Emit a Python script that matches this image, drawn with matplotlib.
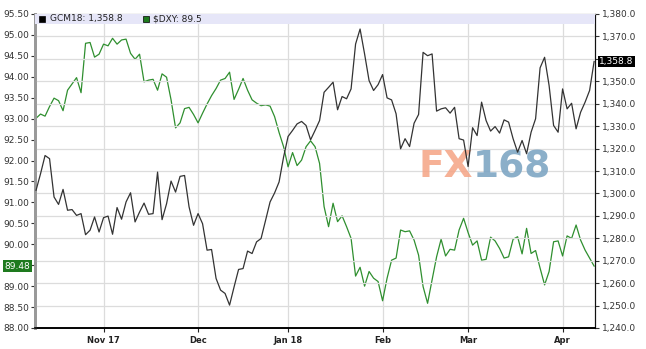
import numpy as np
import pandas as pd
import matplotlib
matplotlib.use('agg')
import matplotlib.pyplot as plt
from matplotlib.patches import Rectangle

# trading days shown on the chart (exchange holidays removed)
holidays = ['2017-11-23', '2017-12-25', '2018-01-01', '2018-01-15',
            '2018-02-19', '2018-03-30']
dates = pd.bdate_range('2017-10-11', '2018-04-11', freq='C', holidays=holidays)

# $DXY, left axis
dxy = [93.01, 93.11, 93.06, 93.29, 93.49, 93.43, 93.19, 93.68, 93.83, 93.98,
       93.62, 94.80, 94.82, 94.47, 94.54, 94.78, 94.74, 94.92, 94.78, 94.88,
       94.90, 94.56, 94.42, 94.54, 93.88, 93.92, 93.94, 93.68, 94.07, 93.99,
       93.45, 92.78, 92.90, 93.24, 93.27, 93.10, 92.90, 93.13, 93.35, 93.55,
       93.72, 93.92, 93.96, 94.11, 93.46, 93.70, 93.96, 93.68, 93.45, 93.37,
       93.31, 93.33, 93.30, 93.05, 92.67, 92.33, 91.85, 92.19, 91.88, 92.01,
       92.33, 92.47, 92.33, 91.93, 90.90, 90.42, 90.98, 90.54, 90.68, 90.42,
       90.14, 89.24, 89.45, 89.00, 89.35, 89.19, 89.11, 88.65, 89.19, 89.62,
       89.67, 90.34, 90.30, 90.32, 90.10, 89.74, 88.99, 88.59, 89.15, 89.70,
       90.12, 89.72, 89.88, 89.86, 90.34, 90.62, 90.28, 89.98, 90.08, 89.62,
       89.64, 90.17, 90.08, 89.90, 89.67, 89.70, 90.12, 90.18, 89.77, 90.38,
       89.78, 89.85, 89.43, 89.03, 89.35, 90.06, 90.08, 89.72, 90.20, 90.14,
       90.46, 90.10, 89.86, 89.67, 89.48]

# GCM18 gold futures, right axis
gold = [1301.4, 1308.8, 1316.9, 1315.5, 1298.4, 1295.1, 1301.8, 1292.5, 1292.8, 1290.2,
        1291.0, 1281.6, 1283.6, 1289.5, 1282.8, 1289.2, 1289.9, 1281.8, 1293.7, 1288.5,
        1296.2, 1300.3, 1287.3, 1291.7, 1295.7, 1290.7, 1291.0, 1309.5, 1288.3, 1295.4,
        1305.5, 1300.6, 1307.6, 1308.0, 1294.0, 1285.8, 1291.0, 1286.5, 1274.7, 1275.0,
        1262.1, 1256.9, 1255.4, 1250.2, 1258.3, 1266.1, 1266.5, 1274.3, 1273.2, 1278.4,
        1279.9, 1288.0, 1296.2, 1300.2, 1305.1, 1316.2, 1325.4, 1328.1, 1331.0, 1332.1,
        1330.3, 1323.9, 1328.1, 1332.5, 1345.1, 1347.3, 1349.6, 1337.3, 1343.2, 1342.2,
        1346.6, 1366.6, 1373.3, 1362.2, 1350.3, 1345.9, 1348.5, 1353.0, 1342.6, 1341.7,
        1335.5, 1319.9, 1324.4, 1320.9, 1331.3, 1335.2, 1362.9, 1361.4, 1362.2, 1336.7,
        1337.7, 1338.2, 1335.8, 1338.4, 1324.4, 1323.8, 1312.0, 1329.3, 1325.8, 1340.7,
        1332.5, 1327.8, 1329.8, 1326.9, 1332.8, 1331.8, 1324.4, 1318.4, 1323.6, 1317.7,
        1327.3, 1333.3, 1356.0, 1360.7, 1348.1, 1330.3, 1327.3, 1346.6, 1337.7, 1340.2,
        1328.8, 1336.2, 1340.7, 1345.9, 1358.8]

month_labels = ['Nov 17', 'Dec', 'Jan 18', 'Feb', 'Mar', 'Apr']

x = np.arange(len(dates))
month_starts = [i for i in range(1, len(dates)) if dates[i].month != dates[i - 1].month]

W, H = 646, 349
fig = plt.figure(figsize=(W / 100, H / 100), dpi=100)
ax = fig.add_axes([34.7 / W, 1 - 328 / H, (595 - 34.7) / W, 314 / H])
ax2 = ax.twinx()
pw = 595 - 34.7

ax.set_xlim(-0.3, len(dates) - 0.8)
ax.set_ylim(88.0, 95.5)
ax2.set_ylim(1240, 1380)

# tick labels hidden where the last-value tags sit
ax.set_yticks(np.arange(88.0, 95.51, 0.5))
ax.yaxis.set_major_formatter(lambda v, p: '' if abs(v - dxy[-1]) < 0.2 else f'{v:.2f}')
ax2.set_yticks(np.arange(1240, 1380.1, 10))
ax2.yaxis.set_major_formatter(lambda v, p: '' if abs(v - gold[-1]) < 4 else f'{v:,.1f}')
ax.set_xticks(month_starts)
ax.set_xticklabels(month_labels, fontweight='bold')

# grid: vertical at months, horizontal at right axis ticks
ax.grid(axis='x', color='#dcdcdc', lw=0.9)
ax2.grid(axis='y', color='#dcdcdc', lw=0.9)
ax.set_axisbelow(True)
ax2.set_axisbelow(True)

ax.tick_params(axis='y', length=3, labelsize=6.5, colors='#333333', pad=1)
ax2.tick_params(axis='y', length=3, labelsize=6.5, colors='#333333', pad=2)
ax.tick_params(axis='x', length=3, labelsize=6, colors='#222222', pad=3)

for a in (ax, ax2):
    a.spines['left'].set_color('#999999')
    a.spines['left'].set_linewidth(2)
    a.spines['top'].set_color('#999999')
    a.spines['bottom'].set_color('#000000')
    a.spines['bottom'].set_linewidth(1.2)
    a.spines['right'].set_color('#111111')

# watermark, under the lines
ax2.text((418 - 34.7) / pw, (328 - 167) / 314, 'FX', transform=ax2.transAxes,
         fontsize=27, fontweight='bold', color='#f5a688', alpha=0.88,
         va='center', ha='left', zorder=1)
ax2.text((473 - 34.7) / pw, (328 - 167) / 314, '168', transform=ax2.transAxes,
         fontsize=27, fontweight='bold', color='#7ea6c4', alpha=0.9,
         va='center', ha='left', zorder=1)

ax.plot(x, dxy, color='#2f8f2f', lw=0.9, zorder=3)
ax2.plot(x, gold, color='#333333', lw=0.9, zorder=3)

# legend band at the top of the plot
band_h = 10 / 314
ax2.add_patch(Rectangle((0, 1 - band_h), 1, band_h, transform=ax2.transAxes,
                        facecolor='#e6e6f8', edgecolor='none', zorder=5, clip_on=False))
ax2.add_patch(Rectangle(((39 - 34.7) / pw, 1 - 8 / 314), 6 / pw, 6 / 314,
                        transform=ax2.transAxes, facecolor='black', edgecolor='black',
                        lw=0.5, zorder=6))
ax2.text((50 - 34.7) / pw, 1 - 5 / 314, f'GCM18: {gold[-1]:,.1f}', transform=ax2.transAxes,
         fontsize=6.5, color='#222222', va='center', ha='left', zorder=6)
ax2.add_patch(Rectangle(((143 - 34.7) / pw, 1 - 8 / 314), 6 / pw, 6 / 314,
                        transform=ax2.transAxes, facecolor='#1e7a1e', edgecolor='black',
                        lw=0.5, zorder=6))
ax2.text((153 - 34.7) / pw, 1 - 5 / 314, f'$DXY: {dxy[-1]:.1f}', transform=ax2.transAxes,
         fontsize=6.5, color='#222222', va='center', ha='left', zorder=6)

# last value tags
ax.annotate(f'{dxy[-1]:.2f}', xy=(0, dxy[-1]), xycoords=('axes fraction', 'data'),
            xytext=(-3, 0), textcoords='offset points', ha='right', va='center',
            fontsize=6.5, color='white',
            bbox=dict(boxstyle='square,pad=0.15', fc='#1e7a1e', ec='none'),
            annotation_clip=False)
ax2.annotate(f'{gold[-1]:,.1f}', xy=(1, gold[-1]), xycoords=('axes fraction', 'data'),
             xytext=(3, 0), textcoords='offset points', ha='left', va='center',
             fontsize=6.5, color='white',
             bbox=dict(boxstyle='square,pad=0.15', fc='black', ec='none'),
             annotation_clip=False, zorder=10)

fig.savefig('out.png', dpi=100)
